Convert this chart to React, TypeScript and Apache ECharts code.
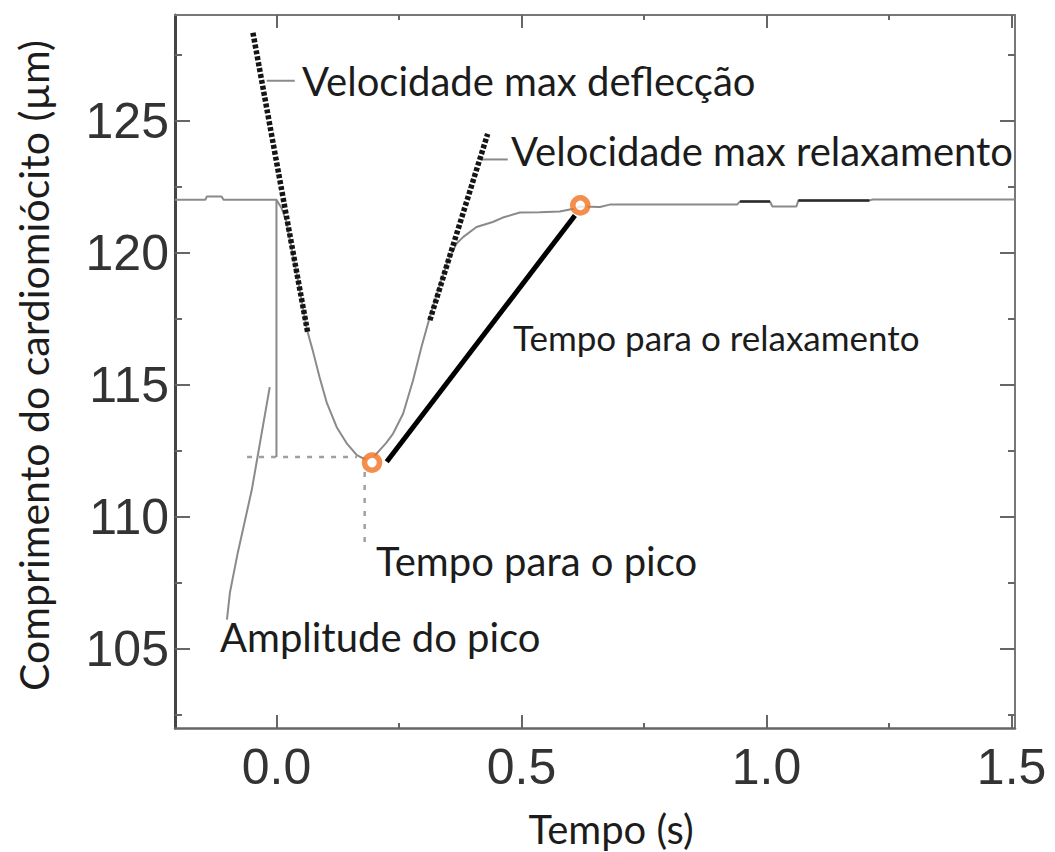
import React, { useEffect, useRef } from "react";
import * as echarts from "echarts";

// ---- axis ticks ----
const xMajorTicks = [0, 0.5, 1.0, 1.5];
const xMinorTicks = [0.25, 0.75, 1.25];
const yMajorTicks = [105, 110, 115, 120, 125];
const yMinorTicks = [102.5, 107.5, 112.5, 117.5, 122.5, 127.5];

// ---- texts ----
const xAxisName = "Tempo (s)";
const yAxisName = "Comprimento do cardiomiócito (µm)";
const labelMaxDeflection = "Velocidade max deflecção";
const labelMaxRelax = "Velocidade max relaxamento";
const labelRelaxTime = "Tempo para o relaxamento";
const labelPeakTime = "Tempo para o pico";
const labelAmplitude = "Amplitude do pico";

// ---- data: [tempo (s), comprimento (µm)] ----
const mainTrace: (number | string)[][] = [
  [-0.207, 122.0], [-0.145, 122.0], [-0.142, 122.13], [-0.112, 122.13], [-0.108, 122.0],
  [0.0, 122.0], [0.01, 121.7], [0.02, 121.2], [0.035, 119.8], [0.05, 118.35], [0.062, 117.1],
  [0.074, 116.3], [0.088, 115.28], [0.103, 114.3], [0.123, 113.39], [0.143, 112.79],
  [0.164, 112.33], [0.178, 112.2], [0.19, 112.2], [0.2, 112.3], [0.2108, 112.52],
  [0.224, 112.8], [0.238, 113.15], [0.2584, 113.9], [0.2788, 115.17], [0.2959, 116.43],
  [0.3129, 117.56], [0.3298, 118.57], [0.3502, 119.71], [0.3673, 120.34], [0.3808, 120.59],
  [0.4082, 120.97], [0.4414, 121.16], [0.4619, 121.33], [0.4966, 121.52],
  [0.537, 121.53], [0.578, 121.56], [0.609, 121.67], [0.62, 121.75], [0.66, 121.73],
  [0.68, 121.82], [0.94, 121.82], [0.946, 121.94], [1.007, 121.94], [1.012, 121.75],
  [1.061, 121.75], [1.065, 121.98], [1.21, 121.98], [1.217, 122.01], [1.507, 122.01],
];
const plateauDark: (number | string)[][] = [
  [0.946, 121.94], [1.007, 121.94], [1.03, "-"], [1.065, 121.98], [1.21, 121.98],
];
const maxDeflectionTangent = [[-0.048, 128.33], [0.064, 116.95]];
const maxRelaxTangent = [[0.313, 117.44], [0.431, 124.5]];
const amplitudeDrop = [[0.0, 122.0], [0.0, 112.26]];
const peakLevel = [[-0.06, 112.26], [0.164, 112.26]];
const peakTimeMarker = [[0.18, 111.69], [0.18, 108.82]];
const amplitudeLeader = [[-0.0137, 114.91], [-0.0504, 111.01], [-0.079, 108.63], [-0.095, 107.12], [-0.101, 106.1]];
const deflectionLeader = [[-0.0198, 126.51], [0.0373, 126.51]];
const relaxLeader = [[0.419, 123.53], [0.472, 123.53]];
const relaxTime = [[0.225, 112.08], [0.609, 121.41]];
const keyPoints = [[0.195, 112.05], [0.62, 121.79]];

const X_MIN = -0.207;
const X_MAX = 1.507;
const Y_MIN = 102;
const Y_MAX = 129;

const TEXT_COLOR = "#1c1c1c";
const TICK_FONT = "Liberation Sans";
const NOTE_FONT = "Lato";

function xAxis(position: "top" | "bottom", kind: "major" | "minor", labels: boolean, lineColor: string, lineWidth: number) {
  return {
    type: "value",
    position,
    min: X_MIN,
    max: X_MAX,
    splitLine: { show: false },
    axisLine: { show: kind === "major", onZero: false, lineStyle: { color: lineColor, width: lineWidth } },
    axisTick: {
      show: true,
      inside: true,
      length: kind === "major" ? 13 : 5,
      customValues: kind === "major" ? xMajorTicks : xMinorTicks,
      lineStyle: { color: "#666", width: 2 },
    },
    axisLabel: labels
      ? {
          show: true,
          customValues: xMajorTicks,
          formatter: (v: number) => v.toFixed(1),
          fontFamily: TICK_FONT,
          fontSize: 50,
          color: "#333",
          margin: 14,
        }
      : { show: false },
    ...(labels
      ? {
          name: xAxisName,
          nameLocation: "middle",
          nameGap: 81,
          nameTextStyle: { fontFamily: NOTE_FONT, fontSize: 40, color: TEXT_COLOR, padding: [0, 0, 0, 32] },
        }
      : {}),
  };
}

function yAxis(position: "left" | "right", kind: "major" | "minor", labels: boolean, lineColor: string, lineWidth: number) {
  return {
    type: "value",
    position,
    min: Y_MIN,
    max: Y_MAX,
    splitLine: { show: false },
    axisLine: { show: kind === "major", onZero: false, lineStyle: { color: lineColor, width: lineWidth } },
    axisTick: {
      show: true,
      inside: true,
      length: kind === "major" ? 15 : 7,
      customValues: kind === "major" ? yMajorTicks : yMinorTicks,
      lineStyle: { color: "#666", width: 2 },
    },
    axisLabel: labels
      ? {
          show: true,
          customValues: yMajorTicks,
          formatter: (v: number) => String(v),
          fontFamily: TICK_FONT,
          fontSize: 50,
          color: "#333",
          margin: 6,
        }
      : { show: false },
    ...(labels
      ? {
          name: yAxisName,
          nameLocation: "middle",
          nameGap: 121,
          nameTextStyle: { fontFamily: NOTE_FONT, fontSize: 41, color: TEXT_COLOR, padding: [0, 0, 0, 12] },
        }
      : {}),
  };
}

function lineSeries(name: string, data: any[], color: string, width: number, type: any = "solid", z = 2, cap = "butt") {
  return {
    name,
    type: "line",
    data,
    xAxisIndex: 0,
    yAxisIndex: 0,
    showSymbol: false,
    symbol: "none",
    connectNulls: false,
    lineStyle: { color, width, type, cap },
    z,
    silent: true,
  };
}

function note(text: string, x: number, y: number, size: number) {
  return {
    type: "text",
    x,
    y,
    z: 100,
    style: {
      text,
      fontFamily: NOTE_FONT,
      fontSize: size,
      fill: TEXT_COLOR,
      align: "left",
      verticalAlign: "middle",
      textAlign: "left",
      textVerticalAlign: "middle",
    },
  };
}

export default function App() {
  const ref = useRef<HTMLDivElement>(null);

  useEffect(() => {
    if (!ref.current) return;
    const chart = echarts.init(ref.current, null, { renderer: "svg" });
    chart.setOption({
      animation: false,
      backgroundColor: "#ffffff",
      grid: { left: 175, top: 15, right: 40, bottom: 124, containLabel: false, outerBoundsMode: "none" },
      xAxis: [
        xAxis("bottom", "major", true, "#666", 2.5),
        xAxis("top", "major", false, "#777", 2),
        xAxis("bottom", "minor", false, "#666", 2),
        xAxis("top", "minor", false, "#777", 2),
      ],
      yAxis: [
        yAxis("left", "major", true, "#444", 3),
        yAxis("right", "major", false, "#777", 2),
        yAxis("left", "minor", false, "#444", 3),
        yAxis("right", "minor", false, "#777", 2),
      ],
      series: [
        lineSeries("Traçado", mainTrace, "#8a8a8a", 2, "solid", 3),
        lineSeries("Traçado (escuro)", plateauDark, "#2a2a2a", 2.5, "solid", 3),
        lineSeries("Amplitude", amplitudeDrop, "#8a8a8a", 2, "solid", 3),
        lineSeries("Nível do pico", peakLevel, "#a0a0a0", 2.5, [5, 7], 2),
        lineSeries("Tempo do pico", peakTimeMarker, "#a0a0a0", 2.5, [5, 8], 2),
        lineSeries("Guia amplitude", amplitudeLeader, "#8a8a8a", 2, "solid", 2),
        lineSeries("Guia deflecção", deflectionLeader, "#8a8a8a", 2, "solid", 2),
        lineSeries("Guia relaxamento", relaxLeader, "#8a8a8a", 2, "solid", 2),
        lineSeries("Velocidade max deflecção", maxDeflectionTangent, "#151515", 5.5, [4, 2], 4),
        lineSeries("Velocidade max relaxamento", maxRelaxTangent, "#151515", 5.5, [4, 2], 4),
        lineSeries("Tempo para o relaxamento", relaxTime, "#000000", 5, "solid", 5),
        {
          name: "Pontos",
          type: "scatter",
          data: keyPoints,
          xAxisIndex: 0,
          yAxisIndex: 0,
          symbol: "circle",
          symbolSize: 15,
          itemStyle: { color: "#ffffff", borderColor: "#F37021", borderWidth: 5.5 },
          z: 6,
          silent: true,
        },
      ],
      graphic: [
        note(labelMaxDeflection, 302, 81, 40),
        note(labelMaxRelax, 511, 151, 40),
        note(labelRelaxTime, 513, 337, 35),
        note(labelPeakTime, 376, 561, 40),
        note(labelAmplitude, 220, 637, 40),
      ],
    });
    return () => chart.dispose();
  }, []);

  return (
    <div
      ref={ref}
      style={{ position: "absolute", left: 0, top: 0, width: 1055, height: 852, background: "#fff" }}
    />
  );
}
